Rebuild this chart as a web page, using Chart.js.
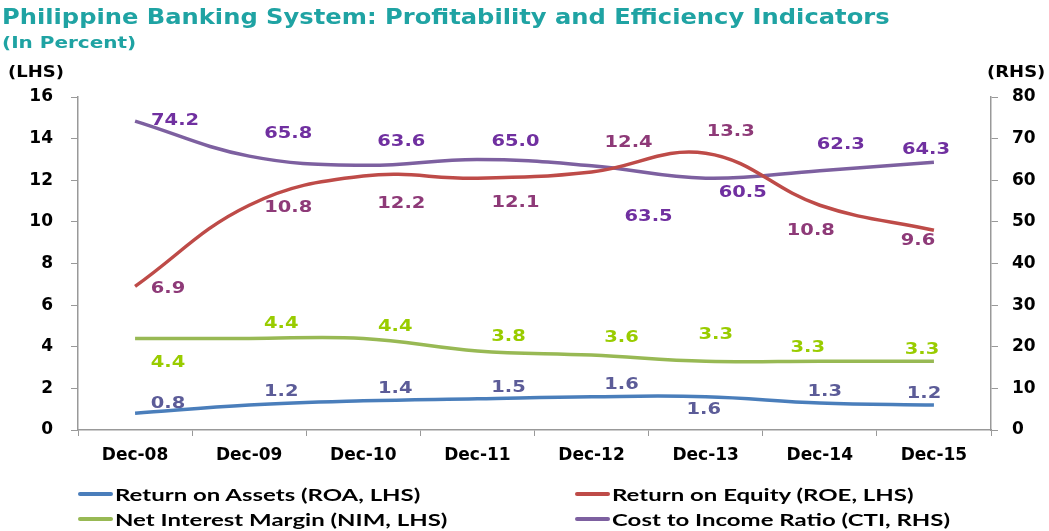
<!DOCTYPE html>
<html>
<head>
<meta charset="utf-8">
<script src="https://cdn.jsdelivr.net/npm/chart.js@4.4.0/dist/chart.umd.min.js"></script>
<style>
  body { margin: 0; background: #fff; }
  #wrap { position: relative; width: 1049px; height: 531px; overflow: hidden; }
  #c { position: absolute; left: 0; top: 0; }
  .txt { position: absolute; font-family: "DejaVu Sans", Verdana, sans-serif; font-weight: bold; white-space: nowrap; transform-origin: 0 0; }
  #title { left: 2px; top: 5px; font-size: 20.5px; color: #1fa3a3; transform: scaleX(1.18); }
  #sub { left: 2px; top: 33px; font-size: 16px; color: #1fa3a3; transform: scaleX(1.25); }
  #lhs { left: 8px; top: 63px; font-size: 15px; color: #000; transform: scaleX(1.2); }
  #rhs { left: 987px; top: 63px; font-size: 15px; color: #000; transform: scaleX(1.2); }
  #legend { position: absolute; left: 78px; top: 483px; width: 960px;
            display: grid; grid-template-columns: 497px 440px; row-gap: 3px;
            font-family: Lato, "Open Sans", sans-serif; font-weight: bold; font-size: 17px; color: #000; }
  #legend div { display: flex; align-items: center; height: 22px; white-space: nowrap; }
  #legend span.sw { display: inline-block; width: 35px; height: 4px; margin-right: 2px; border-radius: 2px; flex: none; }
  #legend span.lt { display: inline-block; transform-origin: 0 50%; transform: scaleX(1.41); }
</style>
</head>
<body>
<div id="wrap">
  <canvas id="c" width="1049" height="531"></canvas>
  <div class="txt" id="title">Philippine Banking System: Profitability and Efficiency Indicators</div>
  <div class="txt" id="sub">(In Percent)</div>
  <div class="txt" id="lhs">(LHS)</div>
  <div class="txt" id="rhs">(RHS)</div>
  <div id="legend"></div>
</div>
<script>
const categories = ["Dec-08", "Dec-09", "Dec-10", "Dec-11", "Dec-12", "Dec-13", "Dec-14", "Dec-15"];
const roa = [0.8, 1.2, 1.4, 1.5, 1.6, 1.6, 1.3, 1.2];
const roe = [6.9, 10.8, 12.2, 12.1, 12.4, 13.3, 10.8, 9.6];
const nim = [4.4, 4.4, 4.4, 3.8, 3.6, 3.3, 3.3, 3.3];
const cti = [74.2, 65.8, 63.6, 65.0, 63.5, 60.5, 62.3, 64.3];
const lhsTicks = [0, 2, 4, 6, 8, 10, 12, 14, 16];
const rhsTicks = [0, 10, 20, 30, 40, 50, 60, 70, 80];

// where each value label sits relative to its point [dx, dy]
const labelOffsets = {
  roa: [[33,-10],[32,-13],[32,-12],[31,-11],[30,-12],[-2,13],[5,-11],[-10,-11]],
  roe: [[33,2],[39,2],[38,28],[38,25],[37,-29],[25,-21],[-9,25],[-16,11]],
  nim: [[33,24],[32,-15],[32,-12],[31,-14],[30,-17],[10,-27],[-12,-14],[-12,-12]],
  cti: [[40,0],[39,-22],[38,-24],[38,-18],[57,51],[37,15],[21,-26],[-8,-13]]
};

const series = [
  { key: "roa", label: "Return on Assets (ROA, LHS)", data: roa, color: "#4a7ebb", text: "#5c5c98", axis: "y" },
  { key: "roe", label: "Return on Equity (ROE, LHS)", data: roe, color: "#be4b48", text: "#8e3a78", axis: "y" },
  { key: "nim", label: "Net Interest Margin (NIM, LHS)", data: nim, color: "#98b954", text: "#99cc00", axis: "y" },
  { key: "cti", label: "Cost to Income Ratio (CTI, RHS)", data: cti, color: "#7d60a0", text: "#7030a0", axis: "y1" }
];

const stretch = 1.18;

const valueLabels = {
  id: "valueLabels",
  afterDatasetsDraw(chart) {
    const ctx = chart.ctx;
    ctx.save();
    ctx.font = "bold 16.5px 'DejaVu Sans', Verdana, sans-serif";
    ctx.textAlign = "center";
    ctx.textBaseline = "middle";
    chart.data.datasets.forEach((ds, i) => {
      const meta = chart.getDatasetMeta(i);
      const offs = labelOffsets[ds.key];
      meta.data.forEach((pt, j) => {
        const x = pt.x + offs[j][0], y = pt.y + offs[j][1];
        ctx.save();
        ctx.translate(x, y);
        ctx.scale(stretch, 1);
        ctx.fillStyle = ds.textColor;
        ctx.fillText(ds.data[j].toFixed(1), 0, 0);
        ctx.restore();
      });
    });
    ctx.restore();
  }
};

const tickFont = { family: "'DejaVu Sans', Verdana, sans-serif", weight: "bold", size: 17 };

new Chart(document.getElementById("c"), {
  type: "line",
  data: {
    labels: categories,
    datasets: series.map(s => ({
      key: s.key,
      label: s.label,
      data: s.data,
      borderColor: s.color,
      backgroundColor: s.color,
      textColor: s.text,
      borderWidth: 3.5,
      pointRadius: 0,
      tension: 0.4,
      yAxisID: s.axis
    }))
  },
  options: {
    responsive: false,
    animation: false,
    layout: { padding: { top: 97, left: 0, right: 0, bottom: 0 } },
    plugins: { legend: { display: false }, tooltip: { enabled: false } },
    scales: {
      x: {
        offset: true,
        grid: { display: true, drawOnChartArea: false, offset: true, color: "#999", tickLength: 6 },
        border: { color: "#999", width: 1.5 },
        ticks: { color: "#000", font: tickFont, padding: 9 },
        afterFit(scale) { scale.height = 101; }
      },
      y: {
        position: "left",
        min: 0, max: 16,
        afterBuildTicks(scale) { scale.ticks = lhsTicks.map(v => ({ value: v })); },
        grid: { display: true, drawOnChartArea: false, color: "#999", tickLength: 7 },
        border: { color: "#999", width: 1.5 },
        ticks: { color: "#000", font: tickFont, padding: 18 },
        afterFit(scale) { scale.width = 78; }
      },
      y1: {
        position: "right",
        min: 0, max: 80,
        afterBuildTicks(scale) { scale.ticks = rhsTicks.map(v => ({ value: v })); },
        grid: { display: true, drawOnChartArea: false, color: "#999", tickLength: 7 },
        border: { color: "#999", width: 1.5 },
        ticks: { color: "#000", font: tickFont, padding: 14 },
        afterFit(scale) { scale.width = 58; }
      }
    }
  },
  plugins: [valueLabels]
});

const legend = document.getElementById("legend");
series.forEach(s => {
  const d = document.createElement("div");
  const sw = document.createElement("span");
  sw.className = "sw";
  sw.style.background = s.color;
  const t = document.createElement("span");
  t.className = "lt";
  t.textContent = s.label;
  d.appendChild(sw);
  d.appendChild(t);
  legend.appendChild(d);
});
</script>
</body>
</html>
